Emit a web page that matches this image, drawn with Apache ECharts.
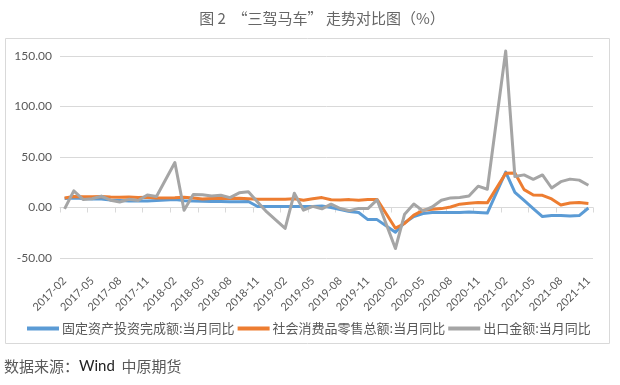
<!DOCTYPE html>
<html>
<head>
<meta charset="utf-8">
<script src="https://cdn.jsdelivr.net/npm/echarts@6/dist/echarts.min.js"></script>
<style>
html,body{margin:0;padding:0;background:#fff;}
#c{width:620px;height:385px;}
</style>
</head>
<body>
<div id="c"></div>
<script>
var categories = [
 '2017-02','2017-03','2017-04','2017-05','2017-06','2017-07','2017-08','2017-09','2017-10','2017-11','2017-12',
 '2018-01','2018-02','2018-03','2018-04','2018-05','2018-06','2018-07','2018-08','2018-09','2018-10','2018-11','2018-12',
 '2019-01','2019-02','2019-03','2019-04','2019-05','2019-06','2019-07','2019-08','2019-09','2019-10','2019-11','2019-12',
 '2020-01','2020-02','2020-03','2020-04','2020-05','2020-06','2020-07','2020-08','2020-09','2020-10','2020-11','2020-12',
 '2021-01','2021-02','2021-03','2021-04','2021-05','2021-06','2021-07','2021-08','2021-09','2021-10','2021-11'
];
var seriesNames = ['固定资产投资完成额:当月同比','社会消费品零售总额:当月同比','出口金额:当月同比'];
var fixedInvest = [
 8.9, 9.5, 9.0, 8.5, 8.5, 7.5, 7.0, 6.5, 6.5, 6.5, 7.0,
 null, 7.9, 6.8, 6.5, 6.2, 6.0, 6.0, 5.8, 5.8, 6.0, 1.0, 1.0,
 null, 1.0, 1.0, 1.0, 1.0, 1.5, 0.0, -2.0, -4.0, -5.0, -12.0, -12.0,
 null, -24.5, -15.0, -9.0, -6.0, -5.0, -5.0, -5.0, -5.0, -4.5, -5.0, -5.5,
 null, 35.0, 15.0, 7.0, -1.0, -9.0, -8.0, -8.0, -8.5, -8.0, -0.5
];
var retailSales = [
 9.5, 10.9, 10.7, 10.7, 11.0, 10.4, 10.1, 10.3, 10.0, 10.2, 9.4,
 null, 9.7, 10.1, 9.4, 8.5, 9.0, 8.8, 9.0, 9.2, 8.6, 8.1, 8.2,
 null, 8.2, 8.7, 7.2, 8.6, 9.8, 7.6, 7.5, 7.8, 7.2, 8.0, 8.0,
 null, -20.5, -15.8, -7.5, -2.8, -1.8, -1.1, 0.5, 3.3, 4.3, 5.0, 4.6,
 null, 33.8, 34.2, 17.7, 12.4, 12.1, 8.5, 2.5, 4.4, 4.9, 3.9
];
var exports = [
 -1.3, 16.4, 8.0, 8.7, 11.3, 7.2, 5.5, 8.1, 6.9, 12.3, 10.9,
 null, 44.5, -2.7, 12.9, 12.6, 11.3, 12.2, 9.8, 14.5, 15.6, 5.4, -4.4,
 null, -20.7, 14.2, -2.7, 1.1, -1.3, 3.3, -1.0, -3.2, -0.9, -1.1, 7.6,
 null, -40.6, -6.6, 3.5, -3.3, 0.5, 7.2, 9.5, 9.9, 11.4, 21.1, 18.1,
 null, 154.9, 30.6, 32.3, 27.9, 32.2, 19.3, 25.6, 28.1, 27.1, 22.0
];
var yTicks = [-50, 0, 50, 100, 150];
var colors = ['#5B9BD5', '#ED7D31', '#A5A5A5'];

var chart = echarts.init(document.getElementById('c'), null, {renderer: 'canvas'});
var latin = 'Lato, "Noto Sans CJK SC", sans-serif';
var cjk = '"Noto Sans CJK SC", sans-serif';
function mk(name, data, color) {
  return {
    name: name, type: 'line', data: data, symbol: 'none', connectNulls: true,
    clip: false, color: color,
    lineStyle: {width: 3, color: color, join: 'round'},
    emphasis: {disabled: true}
  };
}
chart.setOption({
  animation: false,
  grid: {left: 60, right: 27, top: 56, bottom: 127, containLabel: false},
  legend: {
    data: seriesNames, left: 22, top: 317, icon: 'rect', itemWidth: 32, itemHeight: 4,
    itemGap: 3, textStyle: {fontSize: 13, color: '#595959', fontFamily: cjk, padding: [0, 0, 0, -2]}
  },
  xAxis: [{
    type: 'category', data: categories, boundaryGap: true,
    axisLine: {show: false, onZero: false}, axisTick: {show: false},
    axisLabel: {interval: 2, rotate: 45, margin: 21, fontSize: 11, color: '#595959', fontFamily: latin},
    splitLine: {show: false}
  }, {
    type: 'category', data: categories, boundaryGap: true, position: 'bottom',
    axisLine: {show: true, onZero: true, lineStyle: {color: '#d9d9d9', width: 1}},
    axisTick: {show: true, length: 5, interval: function (i) { return i % 3 === 0; }, lineStyle: {color: '#d9d9d9'}},
    axisLabel: {show: false}, splitLine: {show: false}
  }],
  yAxis: {
    type: 'value', min: yTicks[0], max: yTicks[yTicks.length - 1], interval: 50,
    axisLine: {show: false}, axisTick: {show: false},
    axisLabel: {fontSize: 12, color: '#595959', fontFamily: latin, margin: 8,
      formatter: function (v) { return v.toFixed(2); }},
    splitLine: {lineStyle: {color: '#d9d9d9', width: 1}}
  },
  series: [mk(seriesNames[0], fixedInvest, colors[0]), mk(seriesNames[1], retailSales, colors[1]), mk(seriesNames[2], exports, colors[2])],
  graphic: [
    {type: 'rect', shape: {x: 5.5, y: 38.5, width: 604, height: 305}, style: {fill: 'none', stroke: '#d9d9d9', lineWidth: 1}, z: 0},
    {type: 'text', x: 322, y: 18, style: {text: '图 2  “三驾马车” 走势对比图（%）', fill: '#666', font: '15px ' + cjk, textAlign: 'center', textVerticalAlign: 'middle'}},
    {type: 'text', x: 4, y: 366, style: {
      text: '{a|数据来源：}{b|Wind}{a|  中原期货}', textVerticalAlign: 'middle',
      rich: {a: {fontSize: 15, fill: '#595959', fontFamily: cjk}, b: {fontSize: 15, fill: '#222', fontFamily: latin}}
    }}
  ]
});
</script>
</body>
</html>
